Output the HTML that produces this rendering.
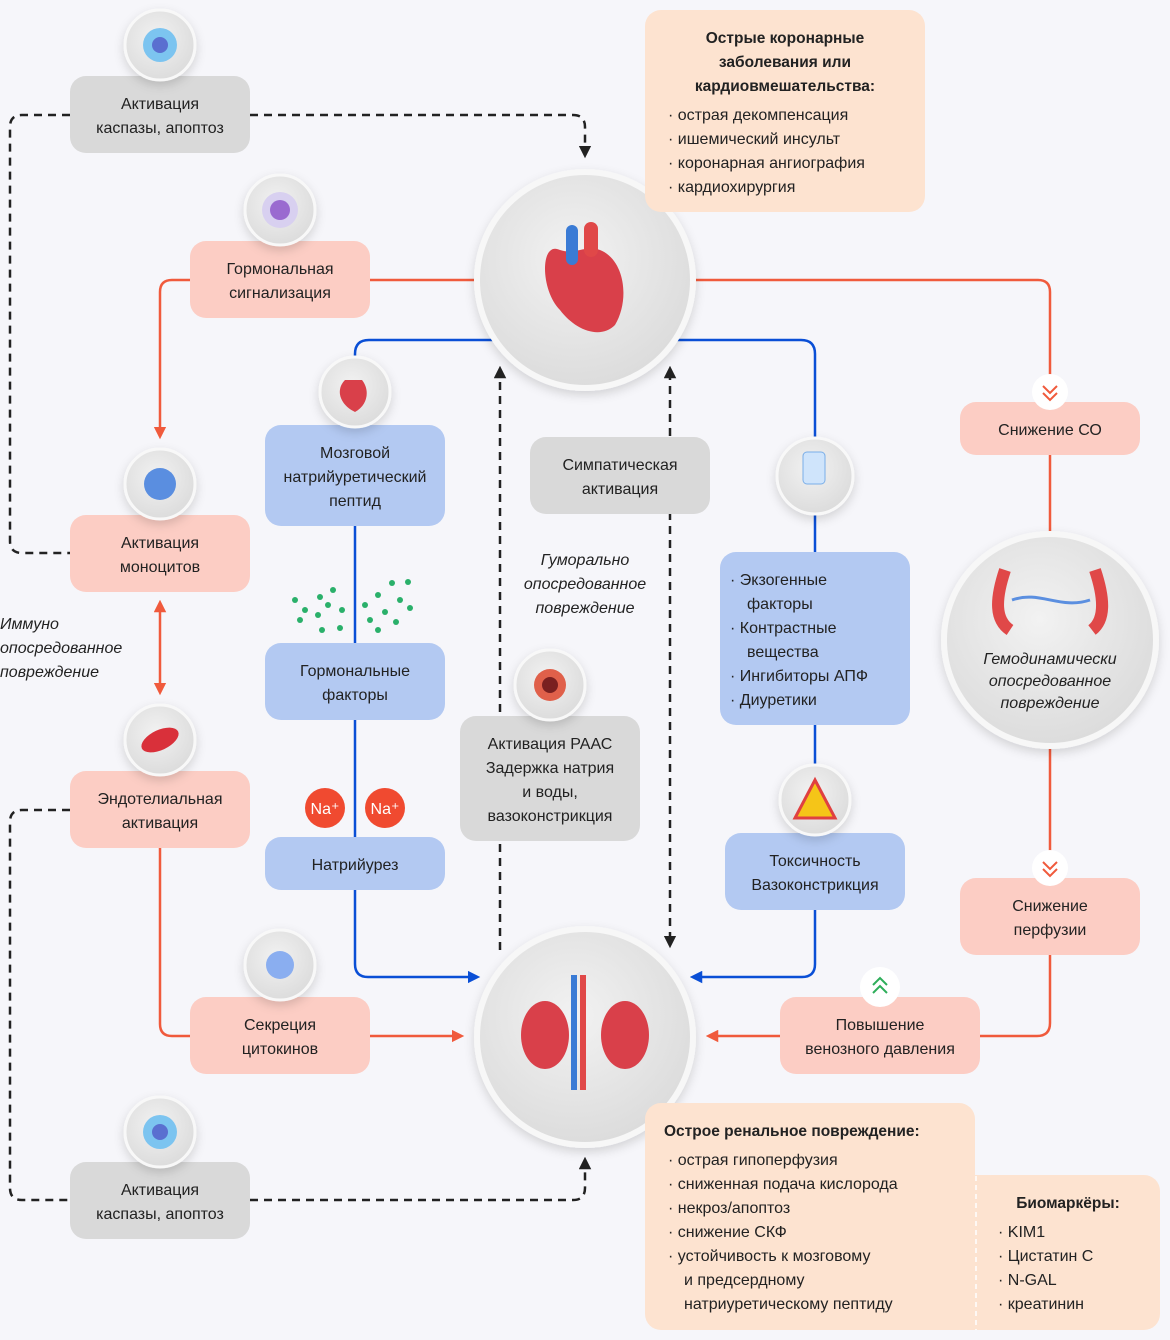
<!DOCTYPE html>
<html><head><meta charset="utf-8"><style>
html,body{margin:0;padding:0;background:#f6f6fa}
svg{display:block}
text{font-family:"Liberation Sans",sans-serif;fill:#222}
.t{font-size:16px;text-anchor:middle}
.i{font-size:16px;font-style:italic;text-anchor:middle}
.is{font-size:16px;font-style:italic;text-anchor:start}
.b{font-size:15.5px;font-weight:bold}
.l{font-size:16px}
</style></head><body>
<svg width="1170" height="1340" viewBox="0 0 1170 1340" xmlns="http://www.w3.org/2000/svg">
<defs>
<filter id="sh" x="-30%" y="-30%" width="160%" height="160%"><feDropShadow dx="0" dy="4" stdDeviation="5" flood-color="#000" flood-opacity="0.15"/></filter>
<radialGradient id="cg" cx="45%" cy="40%" r="60%"><stop offset="0" stop-color="#f2f2f2"/><stop offset="1" stop-color="#dcdcdc"/></radialGradient>
<marker id="ak" viewBox="0 0 10 10" refX="5" refY="5" markerWidth="5" markerHeight="5" orient="auto-start-reverse"><path d="M0,0L10,5L0,10z" fill="#222"/></marker>
<marker id="ar" viewBox="0 0 10 10" refX="5" refY="5" markerWidth="5" markerHeight="5" orient="auto-start-reverse"><path d="M0,0L10,5L0,10z" fill="#f05a3c"/></marker>
<marker id="ab" viewBox="0 0 10 10" refX="5" refY="5" markerWidth="5" markerHeight="5" orient="auto-start-reverse"><path d="M0,0L10,5L0,10z" fill="#0a4fd6"/></marker>
</defs>
<g fill="none" stroke-width="2.5">
<path d="M70,115H22Q10,115 10,127V541Q10,553 22,553H70" stroke="#222" stroke-dasharray="8,6"/>
<path d="M250,115H573Q585,115 585,127V152" stroke="#222" stroke-dasharray="8,6" marker-end="url(#ak)"/>
<path d="M70,810H22Q10,810 10,822V1188Q10,1200 22,1200H70" stroke="#222" stroke-dasharray="8,6"/>
<path d="M250,1200H573Q585,1200 585,1188V1163" stroke="#222" stroke-dasharray="8,6" marker-end="url(#ak)"/>
<path d="M500,950V372" stroke="#222" stroke-dasharray="8,6" marker-end="url(#ak)"/>
<path d="M670,372V942" stroke="#222" stroke-dasharray="8,6" marker-start="url(#ak)" marker-end="url(#ak)"/>
<path d="M190,280H172Q160,280 160,292V433" stroke="#f05a3c" marker-end="url(#ar)"/>
<path d="M370,280H480" stroke="#f05a3c"/>
<path d="M690,280H1038Q1050,280 1050,292V640" stroke="#f05a3c"/>
<path d="M1050,640V1023Q1050,1036 1037,1036H980" stroke="#f05a3c"/>
<path d="M780,1036H712" stroke="#f05a3c" marker-end="url(#ar)"/>
<path d="M160,606V689" stroke="#f05a3c" marker-start="url(#ar)" marker-end="url(#ar)"/>
<path d="M160,848V1024Q160,1036 172,1036H190" stroke="#f05a3c"/>
<path d="M370,1036H458" stroke="#f05a3c" marker-end="url(#ar)"/>
<path d="M495,340H369Q355,340 355,354V964Q355,977 368,977H474" stroke="#0a4fd6" marker-end="url(#ab)"/>
<path d="M675,340H801Q815,340 815,354V964Q815,977 802,977H696" stroke="#0a4fd6" marker-end="url(#ab)"/>
</g>
<circle cx="585" cy="280" r="108" fill="url(#cg)" stroke="#f7f7f7" stroke-width="6" filter="url(#sh)"/>
<circle cx="585" cy="1037" r="108" fill="url(#cg)" stroke="#f7f7f7" stroke-width="6" filter="url(#sh)"/>
<circle cx="1050" cy="640" r="106" fill="url(#cg)" stroke="#f7f7f7" stroke-width="6" filter="url(#sh)"/>
<path d="M560,250 C540,240 540,290 560,310 C575,330 600,340 615,325 C630,300 625,260 600,250 C585,245 575,255 560,250z" fill="#d9404a"/>
<rect x="566" y="225" width="12" height="40" rx="6" fill="#3a7bd5"/><rect x="584" y="222" width="14" height="35" rx="7" fill="#e04848"/>
<ellipse cx="545" cy="1035" rx="24" ry="34" fill="#d9404a"/><ellipse cx="625" cy="1035" rx="24" ry="34" fill="#d9404a"/>
<rect x="571" y="975" width="6" height="115" fill="#3a7bd5"/><rect x="580" y="975" width="6" height="115" fill="#e04848"/>
<path d="M1005,570 C995,600 995,620 1010,630 M1095,570 C1105,600 1105,620 1092,630" stroke="#e04848" stroke-width="12" fill="none"/>
<path d="M1012,600 C1040,590 1060,610 1090,600" stroke="#5b8fe0" stroke-width="3" fill="none"/>
<text class="i" x="1050" y="664">Гемодинамически</text>
<text class="i" x="1050" y="686">опосредованное</text>
<text class="i" x="1050" y="708">повреждение</text>
<g>
<rect x="70" y="76" width="180" height="77" rx="16" fill="#d9d9d9"/>
<text class="t" x="160" y="109">Активация</text><text class="t" x="160" y="133">каспазы, апоптоз</text>
<rect x="190" y="241" width="180" height="77" rx="16" fill="#fccdc4"/>
<text class="t" x="280" y="274">Гормональная</text><text class="t" x="280" y="298">сигнализация</text>
<rect x="645" y="10" width="280" height="202" rx="16" fill="#fde3d0"/>
<text class="b" x="785" y="43" text-anchor="middle">Острые коронарные</text>
<text class="b" x="785" y="67" text-anchor="middle">заболевания или</text>
<text class="b" x="785" y="91" text-anchor="middle">кардиовмешательства:</text>
<text class="l" x="668" y="120">·  острая декомпенсация</text>
<text class="l" x="668" y="144">·  ишемический инсульт</text>
<text class="l" x="668" y="168">·  коронарная ангиография</text>
<text class="l" x="668" y="192">·  кардиохирургия</text>
<rect x="70" y="515" width="180" height="77" rx="16" fill="#fccdc4"/>
<text class="t" x="160" y="548">Активация</text><text class="t" x="160" y="572">моноцитов</text>
<rect x="265" y="425" width="180" height="101" rx="16" fill="#b3c9f2"/>
<text class="t" x="355" y="458">Мозговой</text><text class="t" x="355" y="482">натрийуретический</text><text class="t" x="355" y="506">пептид</text>
<rect x="530" y="437" width="180" height="77" rx="16" fill="#d9d9d9"/>
<text class="t" x="620" y="470">Симпатическая</text><text class="t" x="620" y="494">активация</text>
<text class="i" x="585" y="565">Гуморально</text><text class="i" x="585" y="589">опосредованное</text><text class="i" x="585" y="613">повреждение</text>
<text class="is" x="0" y="629">Иммуно</text><text class="is" x="0" y="653">опосредованное</text><text class="is" x="0" y="677">повреждение</text>
<rect x="720" y="552" width="190" height="173" rx="16" fill="#b3c9f2"/>
<text class="l" x="730" y="585">·  Экзогенные</text><text class="l" x="747" y="609">факторы</text>
<text class="l" x="730" y="633">·  Контрастные</text><text class="l" x="747" y="657">вещества</text>
<text class="l" x="730" y="681">·  Ингибиторы АПФ</text><text class="l" x="730" y="705">·  Диуретики</text>
<rect x="960" y="402" width="180" height="53" rx="16" fill="#fccdc4"/>
<text class="t" x="1050" y="435">Снижение СО</text>
<rect x="265" y="643" width="180" height="77" rx="16" fill="#b3c9f2"/>
<text class="t" x="355" y="676">Гормональные</text><text class="t" x="355" y="700">факторы</text>
<rect x="460" y="716" width="180" height="125" rx="16" fill="#d9d9d9"/>
<text class="t" x="550" y="749">Активация РААС</text><text class="t" x="550" y="773">Задержка натрия</text><text class="t" x="550" y="797">и воды,</text><text class="t" x="550" y="821">вазоконстрикция</text>
<rect x="70" y="771" width="180" height="77" rx="16" fill="#fccdc4"/>
<text class="t" x="160" y="804">Эндотелиальная</text><text class="t" x="160" y="828">активация</text>
<rect x="265" y="837" width="180" height="53" rx="16" fill="#b3c9f2"/>
<text class="t" x="355" y="870">Натрийурез</text>
<rect x="725" y="833" width="180" height="77" rx="16" fill="#b3c9f2"/>
<text class="t" x="815" y="866">Токсичность</text><text class="t" x="815" y="890">Вазоконстрикция</text>
<rect x="960" y="878" width="180" height="77" rx="16" fill="#fccdc4"/>
<text class="t" x="1050" y="911">Снижение</text><text class="t" x="1050" y="935">перфузии</text>
<rect x="190" y="997" width="180" height="77" rx="16" fill="#fccdc4"/>
<text class="t" x="280" y="1030">Секреция</text><text class="t" x="280" y="1054">цитокинов</text>
<rect x="780" y="997" width="200" height="77" rx="16" fill="#fccdc4"/>
<text class="t" x="880" y="1030">Повышение</text><text class="t" x="880" y="1054">венозного давления</text>
<rect x="70" y="1162" width="180" height="77" rx="16" fill="#d9d9d9"/>
<text class="t" x="160" y="1195">Активация</text><text class="t" x="160" y="1219">каспазы, апоптоз</text>
<rect x="645" y="1103" width="330" height="227" rx="16" fill="#fde3d0"/>
<rect x="975" y="1175" width="185" height="155" rx="16" fill="#fde3d0"/>
<rect x="960" y="1175" width="30" height="155" fill="#fde3d0"/>
<line x1="976" y1="1176" x2="976" y2="1330" stroke="#fff" stroke-width="1.5" stroke-dasharray="5,4"/>
<text class="b" x="664" y="1136">Острое ренальное повреждение:</text>
<text class="l" x="668" y="1165">·  острая гипоперфузия</text>
<text class="l" x="668" y="1189">·  сниженная подача кислорода</text>
<text class="l" x="668" y="1213">·  некроз/апоптоз</text>
<text class="l" x="668" y="1237">·  снижение СКФ</text>
<text class="l" x="668" y="1261">·  устойчивость к мозговому</text>
<text class="l" x="684" y="1285">и предсердному</text>
<text class="l" x="684" y="1309">натриуретическому пептиду</text>
<text class="b" x="1068" y="1208" text-anchor="middle">Биомаркёры:</text>
<text class="l" x="998" y="1237">·  KIM1</text><text class="l" x="998" y="1261">·  Цистатин С</text>
<text class="l" x="998" y="1285">·  N-GAL</text><text class="l" x="998" y="1309">·  креатинин</text>
</g>
<g fill="url(#cg)" stroke="#f8f8f8" stroke-width="3" filter="url(#sh)">
<circle cx="160" cy="45" r="35"/><circle cx="280" cy="210" r="35"/><circle cx="355" cy="392" r="35"/>
<circle cx="160" cy="484" r="35"/><circle cx="815" cy="476" r="38"/><circle cx="550" cy="685" r="35"/>
<circle cx="160" cy="740" r="35"/><circle cx="815" cy="800" r="35"/><circle cx="280" cy="965" r="35"/>
<circle cx="160" cy="1132" r="35"/>
</g>
<g>
<circle cx="160" cy="45" r="17" fill="#7cc4f0"/><circle cx="160" cy="45" r="8" fill="#5a6fd0"/>
<circle cx="280" cy="210" r="18" fill="#d8d0f0"/><circle cx="280" cy="210" r="10" fill="#9a6ad0"/>
<path d="M345,380 C335,390 340,405 355,412 C368,405 370,390 362,380z" fill="#d9404a"/>
<circle cx="160" cy="484" r="16" fill="#5a8ee0"/>
<rect x="803" y="452" width="22" height="32" rx="4" fill="#cfe4fb" stroke="#7aaee8"/>
<circle cx="550" cy="685" r="16" fill="#e0604a"/><circle cx="550" cy="685" r="8" fill="#7a2020"/>
<ellipse cx="160" cy="740" rx="20" ry="10" fill="#d9303a" transform="rotate(-25 160 740)"/>
<path d="M815,780L835,818H795z" fill="#f5c518" stroke="#e04040" stroke-width="3"/>
<circle cx="280" cy="965" r="14" fill="#8aaef0"/>
<circle cx="160" cy="1132" r="17" fill="#7cc4f0"/><circle cx="160" cy="1132" r="8" fill="#5a6fd0"/>
<circle cx="1050" cy="392" r="18" fill="#fff"/><path d="M1043,386l7,7l7-7M1043,393l7,7l7-7" stroke="#f05a3c" stroke-width="2" fill="none"/>
<circle cx="1050" cy="868" r="18" fill="#fff"/><path d="M1043,862l7,7l7-7M1043,869l7,7l7-7" stroke="#f05a3c" stroke-width="2" fill="none"/>
<circle cx="880" cy="987" r="20" fill="#fff"/><path d="M873,985l7-7l7,7M873,993l7-7l7,7" stroke="#2eae5a" stroke-width="2" fill="none"/>
<circle cx="325" cy="808" r="20" fill="#f04a30"/><circle cx="385" cy="808" r="20" fill="#f04a30"/>
<text x="325" y="814" font-size="16" text-anchor="middle" style="fill:#fff">Na⁺</text>
<text x="385" y="814" font-size="16" text-anchor="middle" style="fill:#fff">Na⁺</text>
<g fill="#2ab06a">
<circle cx="295" cy="600" r="3"/><circle cx="305" cy="610" r="3"/><circle cx="320" cy="597" r="3"/><circle cx="333" cy="590" r="3"/><circle cx="300" cy="620" r="3"/><circle cx="318" cy="615" r="3"/><circle cx="328" cy="605" r="3"/><circle cx="342" cy="610" r="3"/><circle cx="322" cy="630" r="3"/><circle cx="340" cy="628" r="3"/>
<circle cx="365" cy="605" r="3"/><circle cx="378" cy="595" r="3"/><circle cx="392" cy="583" r="3"/><circle cx="408" cy="582" r="3"/><circle cx="370" cy="620" r="3"/><circle cx="385" cy="612" r="3"/><circle cx="400" cy="600" r="3"/><circle cx="410" cy="608" r="3"/><circle cx="378" cy="630" r="3"/><circle cx="396" cy="622" r="3"/>
</g>
</g>
</svg>
</body></html>
